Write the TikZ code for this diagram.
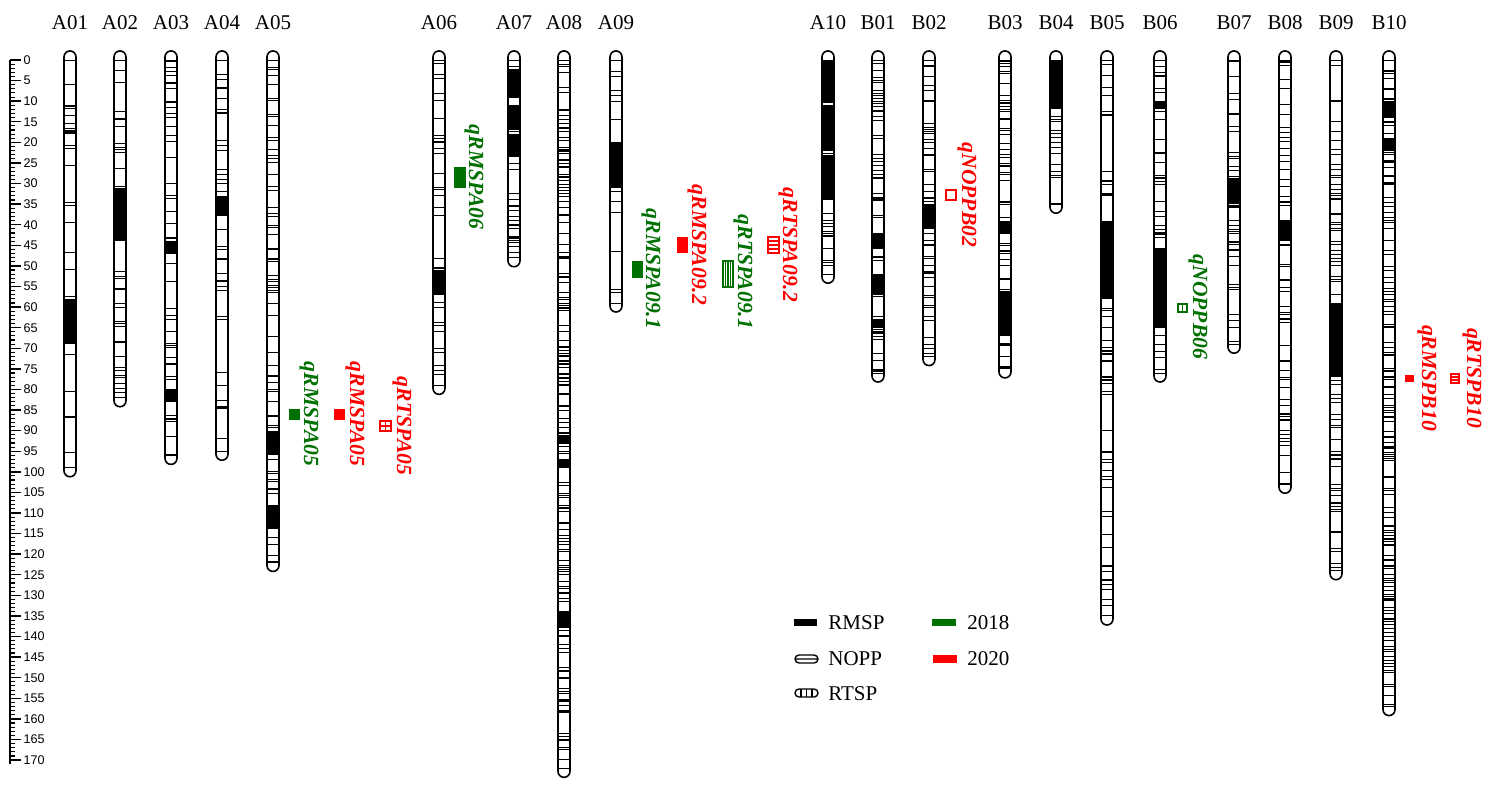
\documentclass[tikz,border=0pt]{standalone}
\usepackage{fontspec}
\setmainfont{Liberation Serif}
\setsansfont{Liberation Sans}
\usepackage{tikz}
\definecolor{qgreen}{RGB}{0,112,0}
\definecolor{qred}{RGB}{255,0,0}

\begin{document}
\begin{tikzpicture}[x = 0.5pt, y = -0.5pt,
  chrom/.style = {line width=0.8pt, rounded corners=3pt},
  mrk/.style = {line width=0.45pt},
  chrlab/.style = {font=\fontsize{10.5}{12}\selectfont, anchor=base, inner sep=0pt},
  qtllab/.style = {font=\fontsize{10.8}{12}\selectfont\bfseries\itshape, rotate=-90, inner sep=0pt},
  keylab/.style = {font=\fontsize{10.5}{12}\selectfont, anchor=west, inner sep=0pt},
  stripe/.style = {line width=0.6pt}]
\useasboundingbox (0,0) rectangle (1500,793);
\pgfmathsetseed{7}
% map part, one unit down = 1 cM
\begin{scope}[yshift=-30pt, y=-2.059pt]
\draw[line width=0.7pt] (10,0) -- (10,171);
\foreach \t in {0,...,170} \draw[line width=0.55pt] (10,\t) -- (15,\t);
\foreach \t in {0,5,...,170}
  \draw[line width=0.7pt] (10,\t) -- (21,\t)
    node[anchor=west, font=\sffamily\fontsize{6.3}{7}\selectfont, inner sep=1pt] (s\t) {\t};
% name/x/length/markers/black blocks
\foreach \nm/\x/\len/\n/\blk in {
  A01/70/99/25/{17/18,58/69}, A02/120/82/40/{31/44},
  A03/171/96/45/{44/47,80/83}, A04/222/95/38/{33/38},
  A05/273/122/75/{90/96,108/114}, A06/439/79/40/{51/57},
  A07/514/48/45/{3/9,11/17,18/23}, A08/564/172/190/{91/93,97/99,134/138},
  A09/616/59/18/{20/31}, A10/828/52/60/{0/10,11/22,23/34},
  B01/878/76/60/{42/46,52/57,63/65}, B02/929/72/60/{35/41},
  B03/1005/75/70/{39/42,56/67}, B04/1056/35/22/{0/12},
  B05/1107/135/75/{39/58}, B06/1160/76/45/{10/12,46/65},
  B07/1234/69/45/{29/35}, B08/1285/103/65/{39/44},
  B09/1336/124/85/{59/77}, B10/1389/157/170/{10/14,19/22}}{
  \node[chrlab] (lab\nm) at (\x,-7.5) {\nm};
  \foreach \i in {1,...,\n}{
    \pgfmathsetmacro{\m}{rnd*\len}
    \draw[mrk] (\x-6,\m) -- (\x+6,\m);
  }
  \draw[mrk] (\x-6,0) -- (\x+6,0) (\x-6,\len) -- (\x+6,\len);
  \foreach \a/\b in \blk \fill (\x-6,\a) rectangle (\x+6,\b);
  \draw[chrom] (\x-6,-2.2) rectangle (\x+6,\len+2.2);
}
\end{scope}
% QTL, 2018
\fill[qgreen] (289,409) rectangle (300,420);
\node[qtllab, qgreen] (qRMSPA05a) at (309,414) {qRMSPA05};
\fill[qgreen] (454,167) rectangle (466,188);
\node[qtllab, qgreen] (qRMSPA06) at (474,177) {qRMSPA06};
\fill[qgreen] (632,261) rectangle (643,278);
\node[qtllab, qgreen] (qRMSPA091) at (651,269) {qRMSPA09.1};
\draw[stripe, qgreen] (723,261) rectangle (733,287);
\foreach \s in {725.5,728,730.5} \draw[stripe, qgreen] (\s,261) -- (\s,287);
\node[qtllab, qgreen] (qRTSPA091) at (743,272) {qRTSPA09.1};
\draw[stripe, qgreen] (1178,304) rectangle (1187,312) (1182.5,304) -- (1182.5,312);
\node[qtllab, qgreen] (qNOPPB06) at (1198,307) {qNOPPB06};
% QTL, 2020
\fill[qred] (334,409) rectangle (345,420);
\node[qtllab, qred] (qRMSPA05b) at (355,414) {qRMSPA05};
\draw[stripe, qred] (380,421) rectangle (391,431) (380,426) -- (391,426) (385.5,421) -- (385.5,431);
\node[qtllab, qred] (qRTSPA05) at (402,426) {qRTSPA05};
\fill[qred] (677,237) rectangle (688,253);
\node[qtllab, qred] (qRMSPA092) at (697,245) {qRMSPA09.2};
\draw[stripe, qred] (768,237) rectangle (779,253);
\foreach \s in {241,245,249} \draw[stripe, qred] (768,\s) -- (779,\s);
\node[qtllab, qred] (qRTSPA092) at (788,245) {qRTSPA09.2};
\draw[stripe, qred] (946,190) rectangle (956,200);
\node[qtllab, qred] (qNOPPB02) at (967,195) {qNOPPB02};
\fill[qred] (1405,375) rectangle (1414,382);
\node[qtllab, qred] (qRMSPB10) at (1427,378) {qRMSPB10};
\draw[stripe, qred] (1451,374) rectangle (1459,383) (1451,377) -- (1459,377) (1451,380) -- (1459,380);
\node[qtllab, qred] (qRTSPB10) at (1472,378) {qRTSPB10};
% key
\fill (794,619) rectangle (817,626);
\node[keylab] (kRMSP) at (828,623) {RMSP};
\draw[line width=0.7pt, rounded corners=2pt] (795,655) rectangle (818,663) (795,659) -- (818,659);
\node[keylab] (kNOPP) at (828,659) {NOPP};
\draw[line width=0.7pt, rounded corners=2pt] (795,689) rectangle (818,697);
\foreach \s in {801,806.5,812} \draw[line width=0.7pt] (\s,689) -- (\s,697);
\node[keylab] (kRTSP) at (828,694) {RTSP};
\fill[qgreen] (932,619) rectangle (956,626);
\node[keylab] (k2018) at (967,623) {2018};
\fill[qred] (933,655) rectangle (957,663);
\node[keylab] (k2020) at (967,659) {2020};
\end{tikzpicture}
\end{document}
